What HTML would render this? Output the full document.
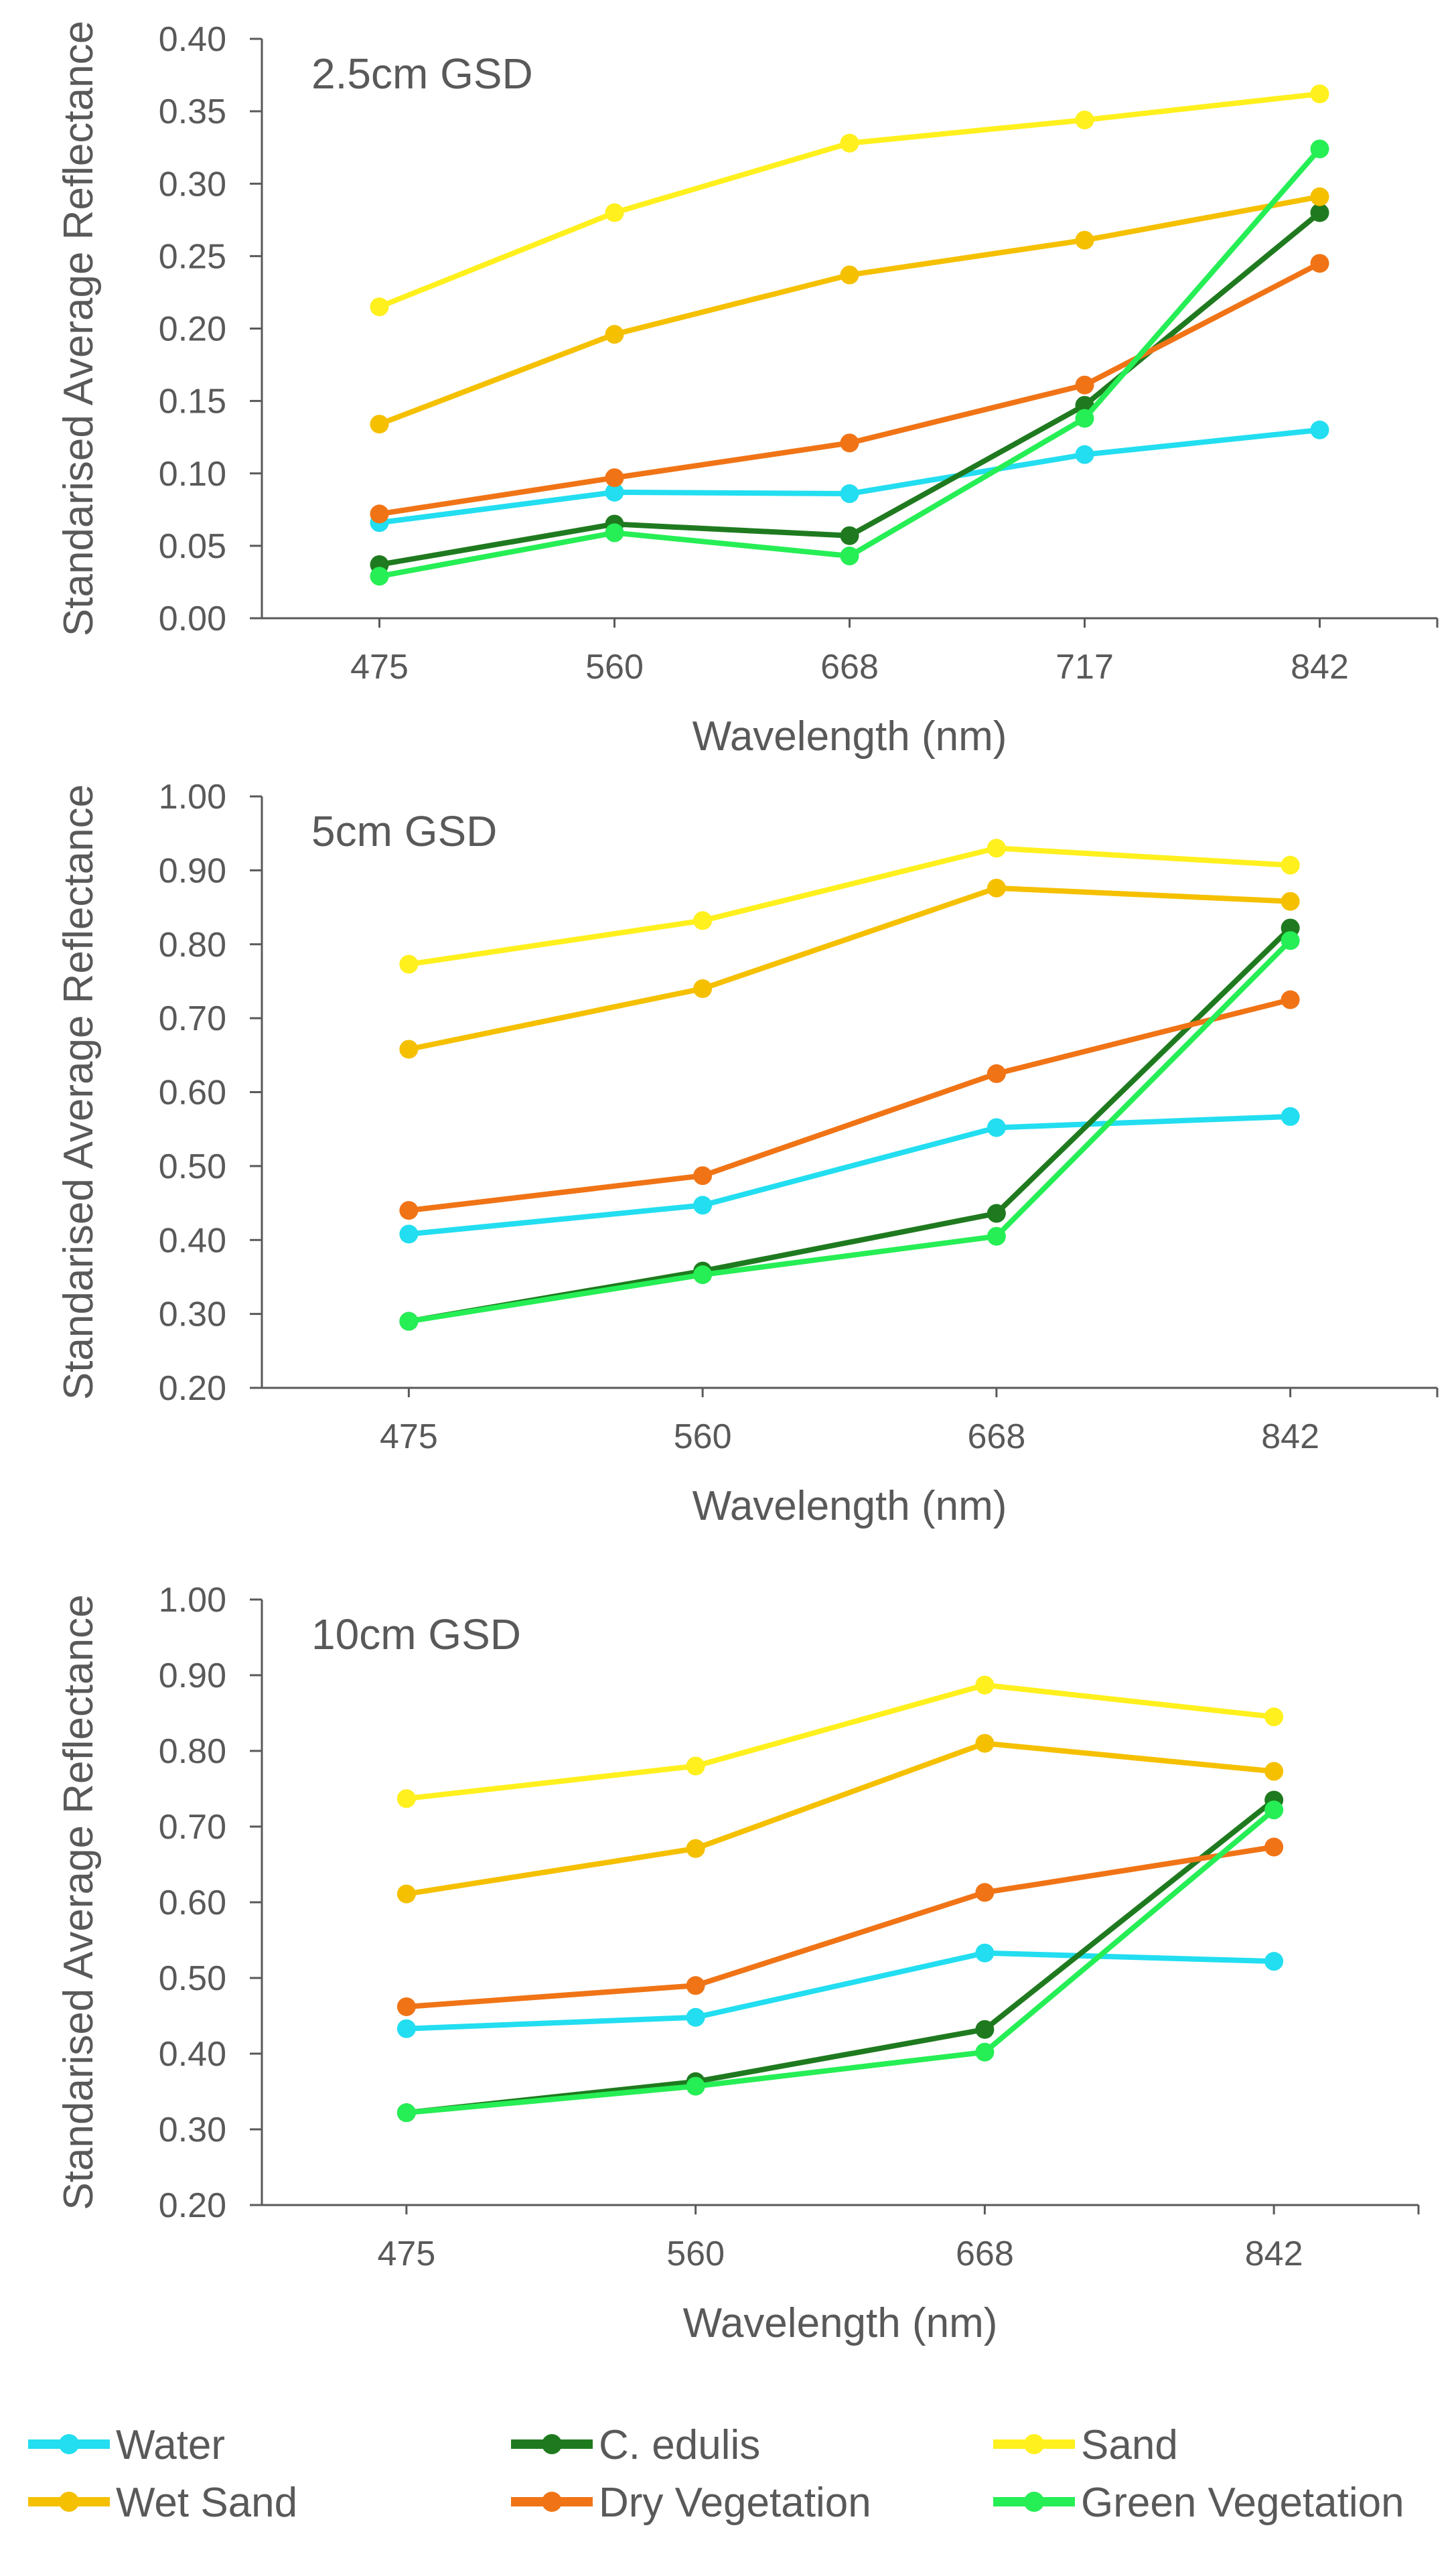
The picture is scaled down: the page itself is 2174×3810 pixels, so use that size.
<!DOCTYPE html>
<html><head><meta charset="utf-8"><style>
html,body{margin:0;padding:0;background:#fff;}
svg{display:block;}
text{font-family:"Liberation Sans",sans-serif;fill:#595959;}
</style></head><body>
<svg id="fig" width="2174" height="3810" viewBox="0 0 2174 3810" xmlns="http://www.w3.org/2000/svg"></svg>
<script>
const seriesNames = ["Water","C. edulis","Sand","Wet Sand","Dry Vegetation","Green Vegetation"];
const seriesColors = ["#22def0","#1f7a1f","#fff01e","#f5c000","#f07416","#26ee55"];
// Panel 1: 2.5cm GSD
const cats1 = ["475","560","668","717","842"];
const ticks1 = [0,0.05,0.10,0.15,0.20,0.25,0.30,0.35,0.40];
const water1 = [0.066,0.087,0.086,0.113,0.130];
const cedulis1 = [0.037,0.065,0.057,0.147,0.280];
const sand1 = [0.215,0.280,0.328,0.344,0.362];
const wetsand1 = [0.134,0.196,0.237,0.261,0.291];
const dryveg1 = [0.072,0.097,0.121,0.161,0.245];
const greenveg1 = [0.029,0.059,0.043,0.138,0.324];
// Panel 2: 5cm GSD
const cats2 = ["475","560","668","842"];
const ticks2 = [0.2,0.3,0.4,0.5,0.6,0.7,0.8,0.9,1.0];
const water2 = [0.408,0.447,0.552,0.567];
const cedulis2 = [0.290,0.358,0.436,0.822];
const sand2 = [0.773,0.832,0.930,0.907];
const wetsand2 = [0.658,0.740,0.876,0.858];
const dryveg2 = [0.440,0.487,0.625,0.725];
const greenveg2 = [0.290,0.353,0.405,0.805];
// Panel 3: 10cm GSD
const cats3 = ["475","560","668","842"];
const ticks3 = [0.2,0.3,0.4,0.5,0.6,0.7,0.8,0.9,1.0];
const water3 = [0.433,0.448,0.533,0.522];
const cedulis3 = [0.322,0.363,0.432,0.735];
const sand3 = [0.737,0.780,0.887,0.845];
const wetsand3 = [0.611,0.671,0.810,0.773];
const dryveg3 = [0.462,0.490,0.613,0.673];
const greenveg3 = [0.322,0.357,0.402,0.722];

const NS="http://www.w3.org/2000/svg";
const svg=document.getElementById('fig');
function mk(tag,attrs,parent){const e=document.createElementNS(NS,tag);for(const k in attrs)e.setAttribute(k,attrs[k]);(parent||svg).appendChild(e);return e;}

function panel(id,title,cats,ticks,series,left,right,top,bottom){
  const g=mk('g',{});
  
  
  const ymin=ticks[0],ymax=ticks[ticks.length-1];
  const band=(right-left)/cats.length;
  const xs=i=>left+band*(i+0.5);
  const ys=v=>bottom-(v-ymin)/(ymax-ymin)*(bottom-top);
  const ya=mk('line',{x1:left,y1:top,x2:left,y2:bottom,stroke:'#595959','stroke-width':3},g);
  
  
  const xa=mk('line',{x1:left-18,y1:bottom,x2:right,y2:bottom,stroke:'#595959','stroke-width':3},g);
  
  
  ticks.forEach(t=>{
    const y=ys(t);
    mk('line',{x1:left-18,y1:y,x2:left,y2:y,stroke:'#595959','stroke-width':3},g);
    const tx=mk('text',{x:338,y:y+18,'text-anchor':'end','font-size':52},g);
    tx.textContent=t.toFixed(2);
    
    
  });
  mk('line',{x1:right,y1:bottom,x2:right,y2:bottom+14,stroke:'#595959','stroke-width':3},g);
  cats.forEach((c,i)=>{
    mk('line',{x1:xs(i),y1:bottom,x2:xs(i),y2:bottom+14,stroke:'#595959','stroke-width':3},g);
    const tx=mk('text',{x:xs(i),y:bottom+90,'text-anchor':'middle','font-size':52},g);
    tx.textContent=c;
    
    
  });
  const tt=mk('text',{x:465,y:top+74,'font-size':64,fill:'#6b6b6b'},g);
  tt.textContent=title;
  
  
  const xt=mk('text',{x:(left+right)/2,y:bottom+197,'text-anchor':'middle','font-size':62},g);
  xt.textContent='Wavelength (nm)';
  
  
  const cy=(top+bottom)/2;
  const yt=mk('text',{x:138,y:cy,'text-anchor':'middle','font-size':62,transform:'rotate(-90 138 '+cy+')'},g);
  yt.textContent='Standarised Average Reflectance';
  
  
  series.forEach((vals,s)=>{
    const pts=vals.map((v,i)=>xs(i)+','+ys(v)).join(' ');
    const pl=mk('polyline',{points:pts,fill:'none',stroke:seriesColors[s],'stroke-width':8,'stroke-linejoin':'round'},g);
    
    
    vals.forEach((v,i)=>{
      const c=mk('circle',{cx:xs(i),cy:ys(v),r:14,fill:seriesColors[s]},g);
      
      
    });
  });
}
panel('gsd-2-5cm','2.5cm GSD',cats1,ticks1,[water1,cedulis1,sand1,wetsand1,dryveg1,greenveg1],391,2146,58,923);
panel('gsd-5cm','5cm GSD',cats2,ticks2,[water2,cedulis2,sand2,wetsand2,dryveg2,greenveg2],391,2146,1189,2072);
panel('gsd-10cm','10cm GSD',cats3,ticks3,[water3,cedulis3,sand3,wetsand3,dryveg3,greenveg3],391,2118,2388,3292);

const legX=[42,763,1483];
const legY=[3649,3735];
const lg=mk('g',{});


seriesNames.forEach((n,s)=>{
  const col=s%3,row=Math.floor(s/3);
  const x=legX[col],y=legY[row];
  const e=mk('g',{},lg);
  
  
  mk('line',{x1:x,y1:y,x2:x+122,y2:y,stroke:seriesColors[s],'stroke-width':14},e);
  mk('circle',{cx:x+61,cy:y,r:15,fill:seriesColors[s]},e);
  const t=mk('text',{x:x+131,y:y+22,'font-size':62,fill:'#404040'},e);
  t.textContent=n;
});
</script>
</body></html>
